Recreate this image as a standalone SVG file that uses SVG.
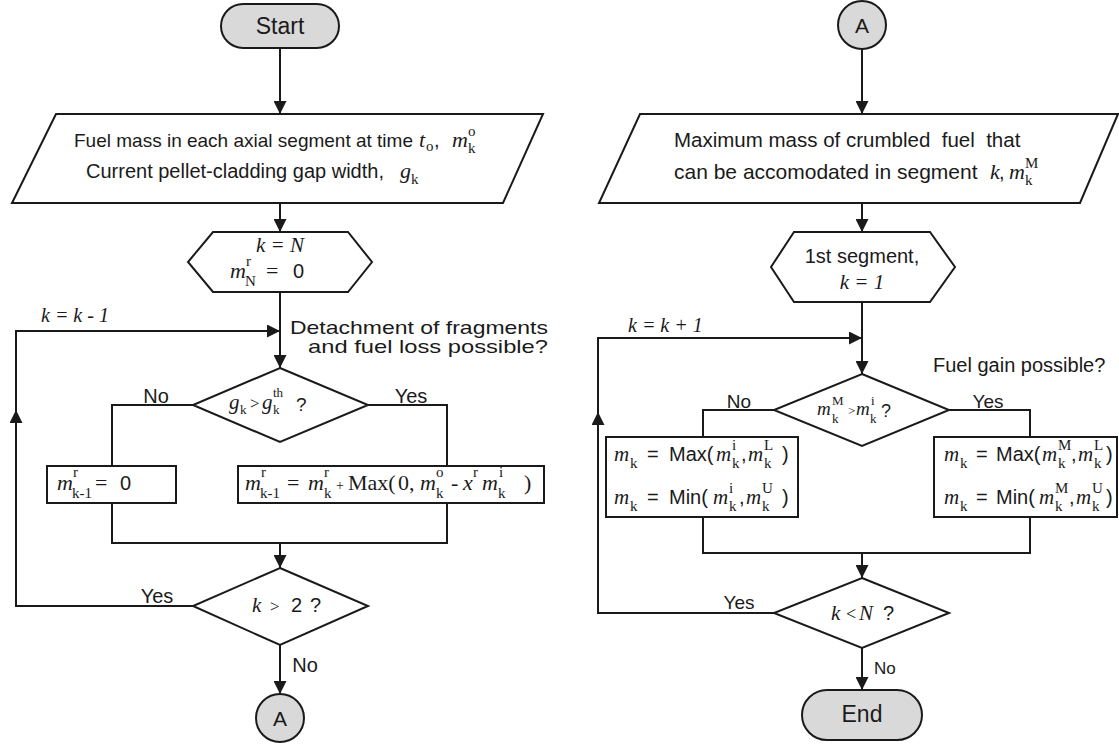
<svg xmlns="http://www.w3.org/2000/svg" width="1119" height="745" viewBox="0 0 1119 745">
<defs>
<style>
.ln{stroke:#1a1a1a;stroke-width:2;fill:none}
.sh{fill:#fff;stroke:#1a1a1a;stroke-width:2}
.tm{fill:#d9d9d9;stroke:#1a1a1a;stroke-width:2}
.s{font-family:"Liberation Sans",Arial,sans-serif;fill:#1a1a1a}
.m{font-family:"Liberation Serif","Times New Roman",serif;font-style:italic;fill:#1a1a1a}
.r{font-family:"Liberation Serif","Times New Roman",serif;font-style:normal}
.ss{font-family:"Liberation Sans",Arial,sans-serif;font-style:normal}
.sm{font-size:15px}
.xs{font-size:13px}
</style>
<marker id="ah" markerWidth="13" markerHeight="13" refX="13" refY="6.5" orient="auto" markerUnits="userSpaceOnUse">
<path d="M0,0 L13,6.5 L0,13 z" fill="#1a1a1a"/>
</marker>
</defs>
<rect width="1119" height="745" fill="#fff"/>

<g id="connectors">
<path class="ln" d="M280,48 V114" marker-end="url(#ah)"/>
<path class="ln" d="M280,203 V232" marker-end="url(#ah)"/>
<path class="ln" d="M280,292 V368" marker-end="url(#ah)"/>
<path class="ln" d="M193,405 H112 V466"/>
<path class="ln" d="M368,405 H447 V466"/>
<path class="ln" d="M112,503 V543 H447 V503"/>
<path class="ln" d="M280,543 V568" marker-end="url(#ah)"/>
<path class="ln" d="M193,606 H16 V410" marker-end="url(#ah)"/>
<path class="ln" d="M16,411 V331 H280" marker-end="url(#ah)"/>
<path class="ln" d="M280,645 V694" marker-end="url(#ah)"/>
<path class="ln" d="M862,49 V114" marker-end="url(#ah)"/>
<path class="ln" d="M862,203 V232" marker-end="url(#ah)"/>
<path class="ln" d="M862,302 V374" marker-end="url(#ah)"/>
<path class="ln" d="M774,410 H703 V437"/>
<path class="ln" d="M949,410 H1030 V437"/>
<path class="ln" d="M703,517 V553 H1030 V517"/>
<path class="ln" d="M862,553 V578" marker-end="url(#ah)"/>
<path class="ln" d="M774,613 H598 V412" marker-end="url(#ah)"/>
<path class="ln" d="M598,413 V338 H862" marker-end="url(#ah)"/>
<path class="ln" d="M862,648 V690" marker-end="url(#ah)"/>
<text class="m" x="41" y="322" font-size="20">k = k - 1</text>
<text class="s" x="290" y="334" font-size="19" textLength="258" lengthAdjust="spacingAndGlyphs">Detachment of fragments</text>
<text class="s" x="308" y="353" font-size="19" textLength="240" lengthAdjust="spacingAndGlyphs">and fuel loss possible?</text>
<text class="s" x="156" y="403" font-size="20" text-anchor="middle">No</text>
<text class="s" x="411" y="403" font-size="20" text-anchor="middle">Yes</text>
<text class="s" x="157" y="603" font-size="20" text-anchor="middle">Yes</text>
<text class="s" x="305" y="672" font-size="20" text-anchor="middle">No</text>
<text class="m" x="628" y="332" font-size="20">k = k + 1</text>
<text class="s" x="933" y="372" font-size="20">Fuel gain possible?</text>
<text class="s" x="739" y="408" font-size="19" text-anchor="middle">No</text>
<text class="s" x="988" y="408" font-size="19" text-anchor="middle">Yes</text>
<text class="s" x="739" y="609" font-size="19" text-anchor="middle">Yes</text>
<text class="s" x="874" y="674" font-size="17">No</text>
</g>

<g id="start">
<rect class="tm" x="221" y="4" width="118" height="44" rx="22"/>
<text class="s" x="280" y="34" font-size="23" text-anchor="middle">Start</text>
</g>

<g id="input1">
<polygon class="sh" points="56,114 543,114 503,203 12,203"/>
<text class="s" x="74" y="147" font-size="19">Fuel mass in each axial segment at time</text>
<text class="m" font-size="22"><tspan x="419" y="147">t</tspan><tspan class="r sm" x="426" y="151">o</tspan><tspan class="ss" x="434" y="147" font-size="20">,</tspan><tspan x="452" y="147">m</tspan><tspan class="r sm" x="468" y="136">o</tspan><tspan class="r sm" x="468" y="153">k</tspan></text>
<text class="s" x="86" y="178" font-size="20">Current pellet-cladding gap width,</text>
<text class="m" font-size="22"><tspan x="400" y="178">g</tspan><tspan class="r sm" x="411" y="184">k</tspan></text>
</g>

<g id="init1">
<polygon class="sh" points="213,232 348,232 372,262 348,292 213,292 188,262"/>
<text class="m" x="280" y="252" font-size="21" text-anchor="middle">k = N</text>
<text class="m" font-size="22"><tspan x="230" y="278">m</tspan><tspan class="r sm" x="246" y="266">r</tspan><tspan class="r sm" x="245" y="286">N</tspan><tspan class="r" x="266" y="278">=</tspan><tspan class="ss" x="293" y="278" font-size="20">0</tspan></text>
</g>

<g id="dec1">
<polygon class="sh" points="280,368 368,405 280,442 193,405"/>
<text class="m" font-size="21"><tspan x="229" y="409">g</tspan><tspan class="r xs" x="240" y="414">k</tspan><tspan class="r" x="250" y="409" font-size="17">&gt;</tspan><tspan x="262" y="409">g</tspan><tspan class="r xs" x="273" y="414">k</tspan><tspan class="r xs" x="273" y="397">th</tspan><tspan class="ss" x="296" y="411" font-size="19">?</tspan></text>
</g>

<g id="box1">
<rect class="sh" x="47" y="466" width="129" height="37"/>
<text class="m" font-size="22"><tspan x="57" y="490">m</tspan><tspan class="r sm" x="73" y="477">r</tspan><tspan class="r sm" x="72" y="498">k-1</tspan><tspan class="r" x="95" y="490">=</tspan><tspan class="ss" x="120" y="490" font-size="20">0</tspan></text>
</g>

<g id="box2">
<rect class="sh" x="238" y="466" width="306" height="37"/>
<text class="m" font-size="22"><tspan x="245" y="490">m</tspan><tspan class="r sm" x="261" y="477">r</tspan><tspan class="r sm" x="260" y="498">k-1</tspan><tspan class="r" x="287" y="490">=</tspan><tspan x="308" y="490">m</tspan><tspan class="r sm" x="324" y="477">r</tspan><tspan class="r sm" x="324" y="498">k</tspan><tspan class="r" x="336" y="490" font-size="14">+</tspan><tspan class="r" x="348" y="490">Max(</tspan><tspan class="r" x="398" y="490">0,</tspan><tspan x="420" y="490">m</tspan><tspan class="r sm" x="436" y="477">o</tspan><tspan class="r sm" x="436" y="498">k</tspan><tspan class="r" x="451" y="490">-</tspan><tspan x="463" y="490">x</tspan><tspan class="r sm" x="473" y="477">r</tspan><tspan x="482" y="490">m</tspan><tspan class="r sm" x="499" y="477">i</tspan><tspan class="r sm" x="498" y="498">k</tspan><tspan class="r" x="524" y="490">)</tspan></text>
</g>

<g id="dec2">
<polygon class="sh" points="280,568 368,606 280,645 193,606"/>
<text class="m" font-size="21"><tspan x="252" y="612">k</tspan><tspan class="r" x="270" y="612" font-size="17">&gt;</tspan><tspan class="ss" x="291" y="612" font-size="20">2</tspan><tspan class="ss" x="310" y="612" font-size="20">?</tspan></text>
</g>

<g id="connA1">
<circle class="tm" cx="280" cy="718" r="24"/>
<text class="s" x="280" y="725.5" font-size="21" text-anchor="middle">A</text>
</g>

<g id="connA2">
<circle class="tm" cx="862" cy="25" r="24"/>
<text class="s" x="862" y="32.5" font-size="21" text-anchor="middle">A</text>
</g>

<g id="input2">
<polygon class="sh" points="640,114 1118,114 1080,203 599,203"/>
<text class="s" x="674" y="147" font-size="20.5" xml:space="preserve">Maximum mass of crumbled  fuel  that</text>
<text class="s" x="674" y="179" font-size="21">can be accomodated in segment</text>
<text class="m" font-size="22"><tspan x="990" y="179">k</tspan><tspan class="ss" x="999" y="179" font-size="20">,</tspan><tspan x="1009" y="179">m</tspan><tspan class="r sm" x="1025" y="168">M</tspan><tspan class="r sm" x="1025" y="185">k</tspan></text>
</g>

<g id="init2">
<polygon class="sh" points="794,232 930,232 955,267 930,302 794,302 771,267"/>
<text class="s" x="862" y="263" font-size="20" text-anchor="middle">1st segment,</text>
<text class="m" x="862" y="289" font-size="21" text-anchor="middle">k = 1</text>
</g>

<g id="dec3">
<polygon class="sh" points="862,374 949,410 862,446 774,410"/>
<text class="m" font-size="19"><tspan x="817" y="415">m</tspan><tspan class="r xs" x="832" y="405">M</tspan><tspan class="r xs" x="832" y="423">k</tspan><tspan class="r" x="848" y="415" font-size="13">&gt;</tspan><tspan x="856" y="415">m</tspan><tspan class="r xs" x="871" y="405">i</tspan><tspan class="r xs" x="870" y="423">k</tspan><tspan class="ss" x="881" y="417" font-size="18">?</tspan></text>
</g>

<g id="box3">
<rect class="sh" x="606" y="437" width="192" height="80"/>
<text class="m" font-size="21"><tspan x="614" y="461">m</tspan><tspan class="r sm" x="630" y="468">k</tspan><tspan class="ss" x="647" y="461" font-size="20">=</tspan><tspan class="ss" x="669" y="461" font-size="20">Max(</tspan><tspan x="716" y="461">m</tspan><tspan class="r sm" x="732" y="450">i</tspan><tspan class="r sm" x="732" y="468">k</tspan><tspan class="ss" x="741" y="461" font-size="20">,</tspan><tspan x="748" y="461">m</tspan><tspan class="r sm" x="764" y="450">L</tspan><tspan class="r sm" x="764" y="468">k</tspan><tspan class="ss" x="782" y="461" font-size="20">)</tspan></text>
<text class="m" font-size="21"><tspan x="614" y="504">m</tspan><tspan class="r sm" x="630" y="511">k</tspan><tspan class="ss" x="647" y="504" font-size="20">=</tspan><tspan class="ss" x="669" y="504" font-size="20">Min(</tspan><tspan x="713" y="504">m</tspan><tspan class="r sm" x="729" y="493">i</tspan><tspan class="r sm" x="729" y="511">k</tspan><tspan class="ss" x="739" y="504" font-size="20">,</tspan><tspan x="746" y="504">m</tspan><tspan class="r sm" x="762" y="493">U</tspan><tspan class="r sm" x="762" y="511">k</tspan><tspan class="ss" x="782" y="504" font-size="20">)</tspan></text>
</g>

<g id="box4">
<rect class="sh" x="934" y="437" width="183" height="80"/>
<text class="m" font-size="21"><tspan x="944" y="461">m</tspan><tspan class="r sm" x="960" y="468">k</tspan><tspan class="ss" x="976" y="461" font-size="20">=</tspan><tspan class="ss" x="996" y="461" font-size="20">Max(</tspan><tspan x="1042" y="461">m</tspan><tspan class="r sm" x="1058" y="450">M</tspan><tspan class="r sm" x="1058" y="468">k</tspan><tspan class="ss" x="1071" y="461" font-size="20">,</tspan><tspan x="1078" y="461">m</tspan><tspan class="r sm" x="1094" y="450">L</tspan><tspan class="r sm" x="1094" y="468">k</tspan><tspan class="ss" x="1106" y="461" font-size="20">)</tspan></text>
<text class="m" font-size="21"><tspan x="944" y="504">m</tspan><tspan class="r sm" x="960" y="511">k</tspan><tspan class="ss" x="976" y="504" font-size="20">=</tspan><tspan class="ss" x="996" y="504" font-size="20">Min(</tspan><tspan x="1039" y="504">m</tspan><tspan class="r sm" x="1055" y="493">M</tspan><tspan class="r sm" x="1055" y="511">k</tspan><tspan class="ss" x="1069" y="504" font-size="20">,</tspan><tspan x="1076" y="504">m</tspan><tspan class="r sm" x="1092" y="493">U</tspan><tspan class="r sm" x="1092" y="511">k</tspan><tspan class="ss" x="1106" y="504" font-size="20">)</tspan></text>
</g>

<g id="dec4">
<polygon class="sh" points="862,578 949,613 862,648 774,613"/>
<text class="m" font-size="21"><tspan x="831" y="620">k</tspan><tspan class="r" x="846" y="620" font-size="18">&lt;</tspan><tspan x="859" y="620">N</tspan><tspan class="ss" x="883" y="620" font-size="20">?</tspan></text>
</g>

<g id="end">
<rect class="tm" x="802" y="690" width="120" height="50" rx="25"/>
<text class="s" x="862" y="722" font-size="23" text-anchor="middle">End</text>
</g>
</svg>
